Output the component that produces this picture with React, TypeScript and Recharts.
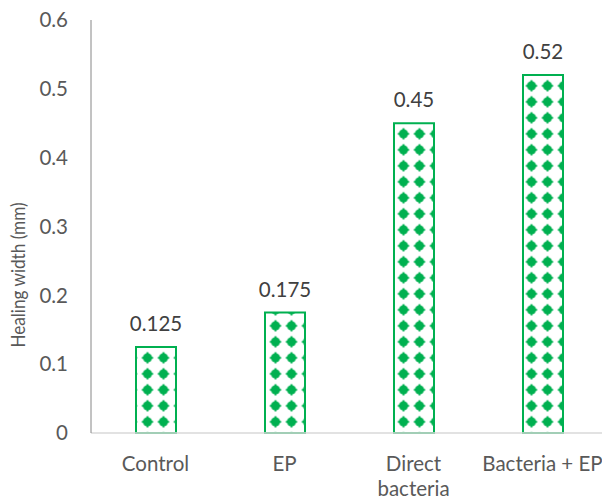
import React from "react";
import { BarChart, Bar, XAxis, YAxis, LabelList, Label } from "recharts";

const categories = ["Control", "EP", "Direct bacteria", "Bacteria + EP"];
const values = [0.125, 0.175, 0.45, 0.52];
const yTicks = [0, 0.1, 0.2, 0.3, 0.4, 0.5, 0.6];
const tickLines: Record<string, string[]> = {
  Control: ["Control"],
  EP: ["EP"],
  "Direct bacteria": ["Direct", "bacteria"],
  "Bacteria + EP": ["Bacteria + EP"],
};

const data = categories.map((c, i) => ({ name: c, value: values[i] }));

const GREEN = "#00B050";
const FONT = "Lato, 'Open Sans', sans-serif";
const FS = 20.5;

const XTick = (props: any) => {
  const { x, y, payload } = props;
  const lines = tickLines[payload.value] || [payload.value];
  return (
    <text x={x} y={y} textAnchor="middle" fill="#595959" fontSize={FS} fontFamily={FONT}>
      {lines.map((l, i) => (
        <tspan key={i} x={x} dy={i === 0 ? "0.71em" : 25}>
          {l}
        </tspan>
      ))}
    </text>
  );
};

const YLabel = () => (
  <text
    x={0}
    y={0}
    transform="translate(25,275) rotate(-90)"
    textAnchor="middle"
    fill="#595959"
    fontSize={19.5}
    fontFamily={FONT}
    textLength={145}
    lengthAdjust="spacingAndGlyphs"
  >
    Healing width (mm)
  </text>
);

export default function App() {
  return (
    <div
      style={{
        position: "absolute",
        left: 0,
        top: 0,
        width: 602,
        height: 500,
        overflow: "hidden",
        background: "#fff",
      }}
    >
      <BarChart
        width={610}
        height={500}
        data={data}
        margin={{ top: 20, right: 3, bottom: 7, left: 0 }}
        barCategoryGap={0}
      >
        <defs>
          <pattern
            id="greenPat"
            patternUnits="userSpaceOnUse"
            x={-4.5}
            y={-2.2}
            width={16}
            height={16}
          >
            <rect x={0} y={0} width={16} height={16} fill="#fff" />
            <circle cx={8} cy={8} r={4.6} fill={GREEN} />
            <polygon points="8,2.6 13.4,8 8,13.4 2.6,8" fill={GREEN} />
            <rect x={2.4} y={7.2} width={11.2} height={1.6} fill={GREEN} />
            <rect x={7.2} y={2.4} width={1.6} height={11.2} fill={GREEN} />
          </pattern>
        </defs>
        <XAxis
          dataKey="name"
          height={60}
          tickLine={false}
          tickSize={0}
          tickMargin={23}
          axisLine={{ stroke: "#d9d9d9", strokeWidth: 1.5 }}
          tick={<XTick />}
          interval={0}
        />
        <YAxis
          width={91}
          domain={[0, 0.6]}
          ticks={yTicks}
          tickLine={false}
          tickSize={0}
          tickMargin={23}
          axisLine={{ stroke: "#868686", strokeWidth: 1 }}
          tick={{ fill: "#595959", fontSize: FS, fontFamily: FONT }}
          tickFormatter={(v: number) => String(v)}
        >
          <Label content={<YLabel />} />
        </YAxis>
        <Bar
          dataKey="value"
          barSize={40}
          fill="url(#greenPat)"
          stroke={GREEN}
          strokeWidth={2}
          isAnimationActive={false}
        >
          <LabelList
            dataKey="value"
            position="top"
            offset={16}
            fill="#404040"
            fontSize={FS}
            fontFamily={FONT}
          />
        </Bar>
      </BarChart>
    </div>
  );
}
